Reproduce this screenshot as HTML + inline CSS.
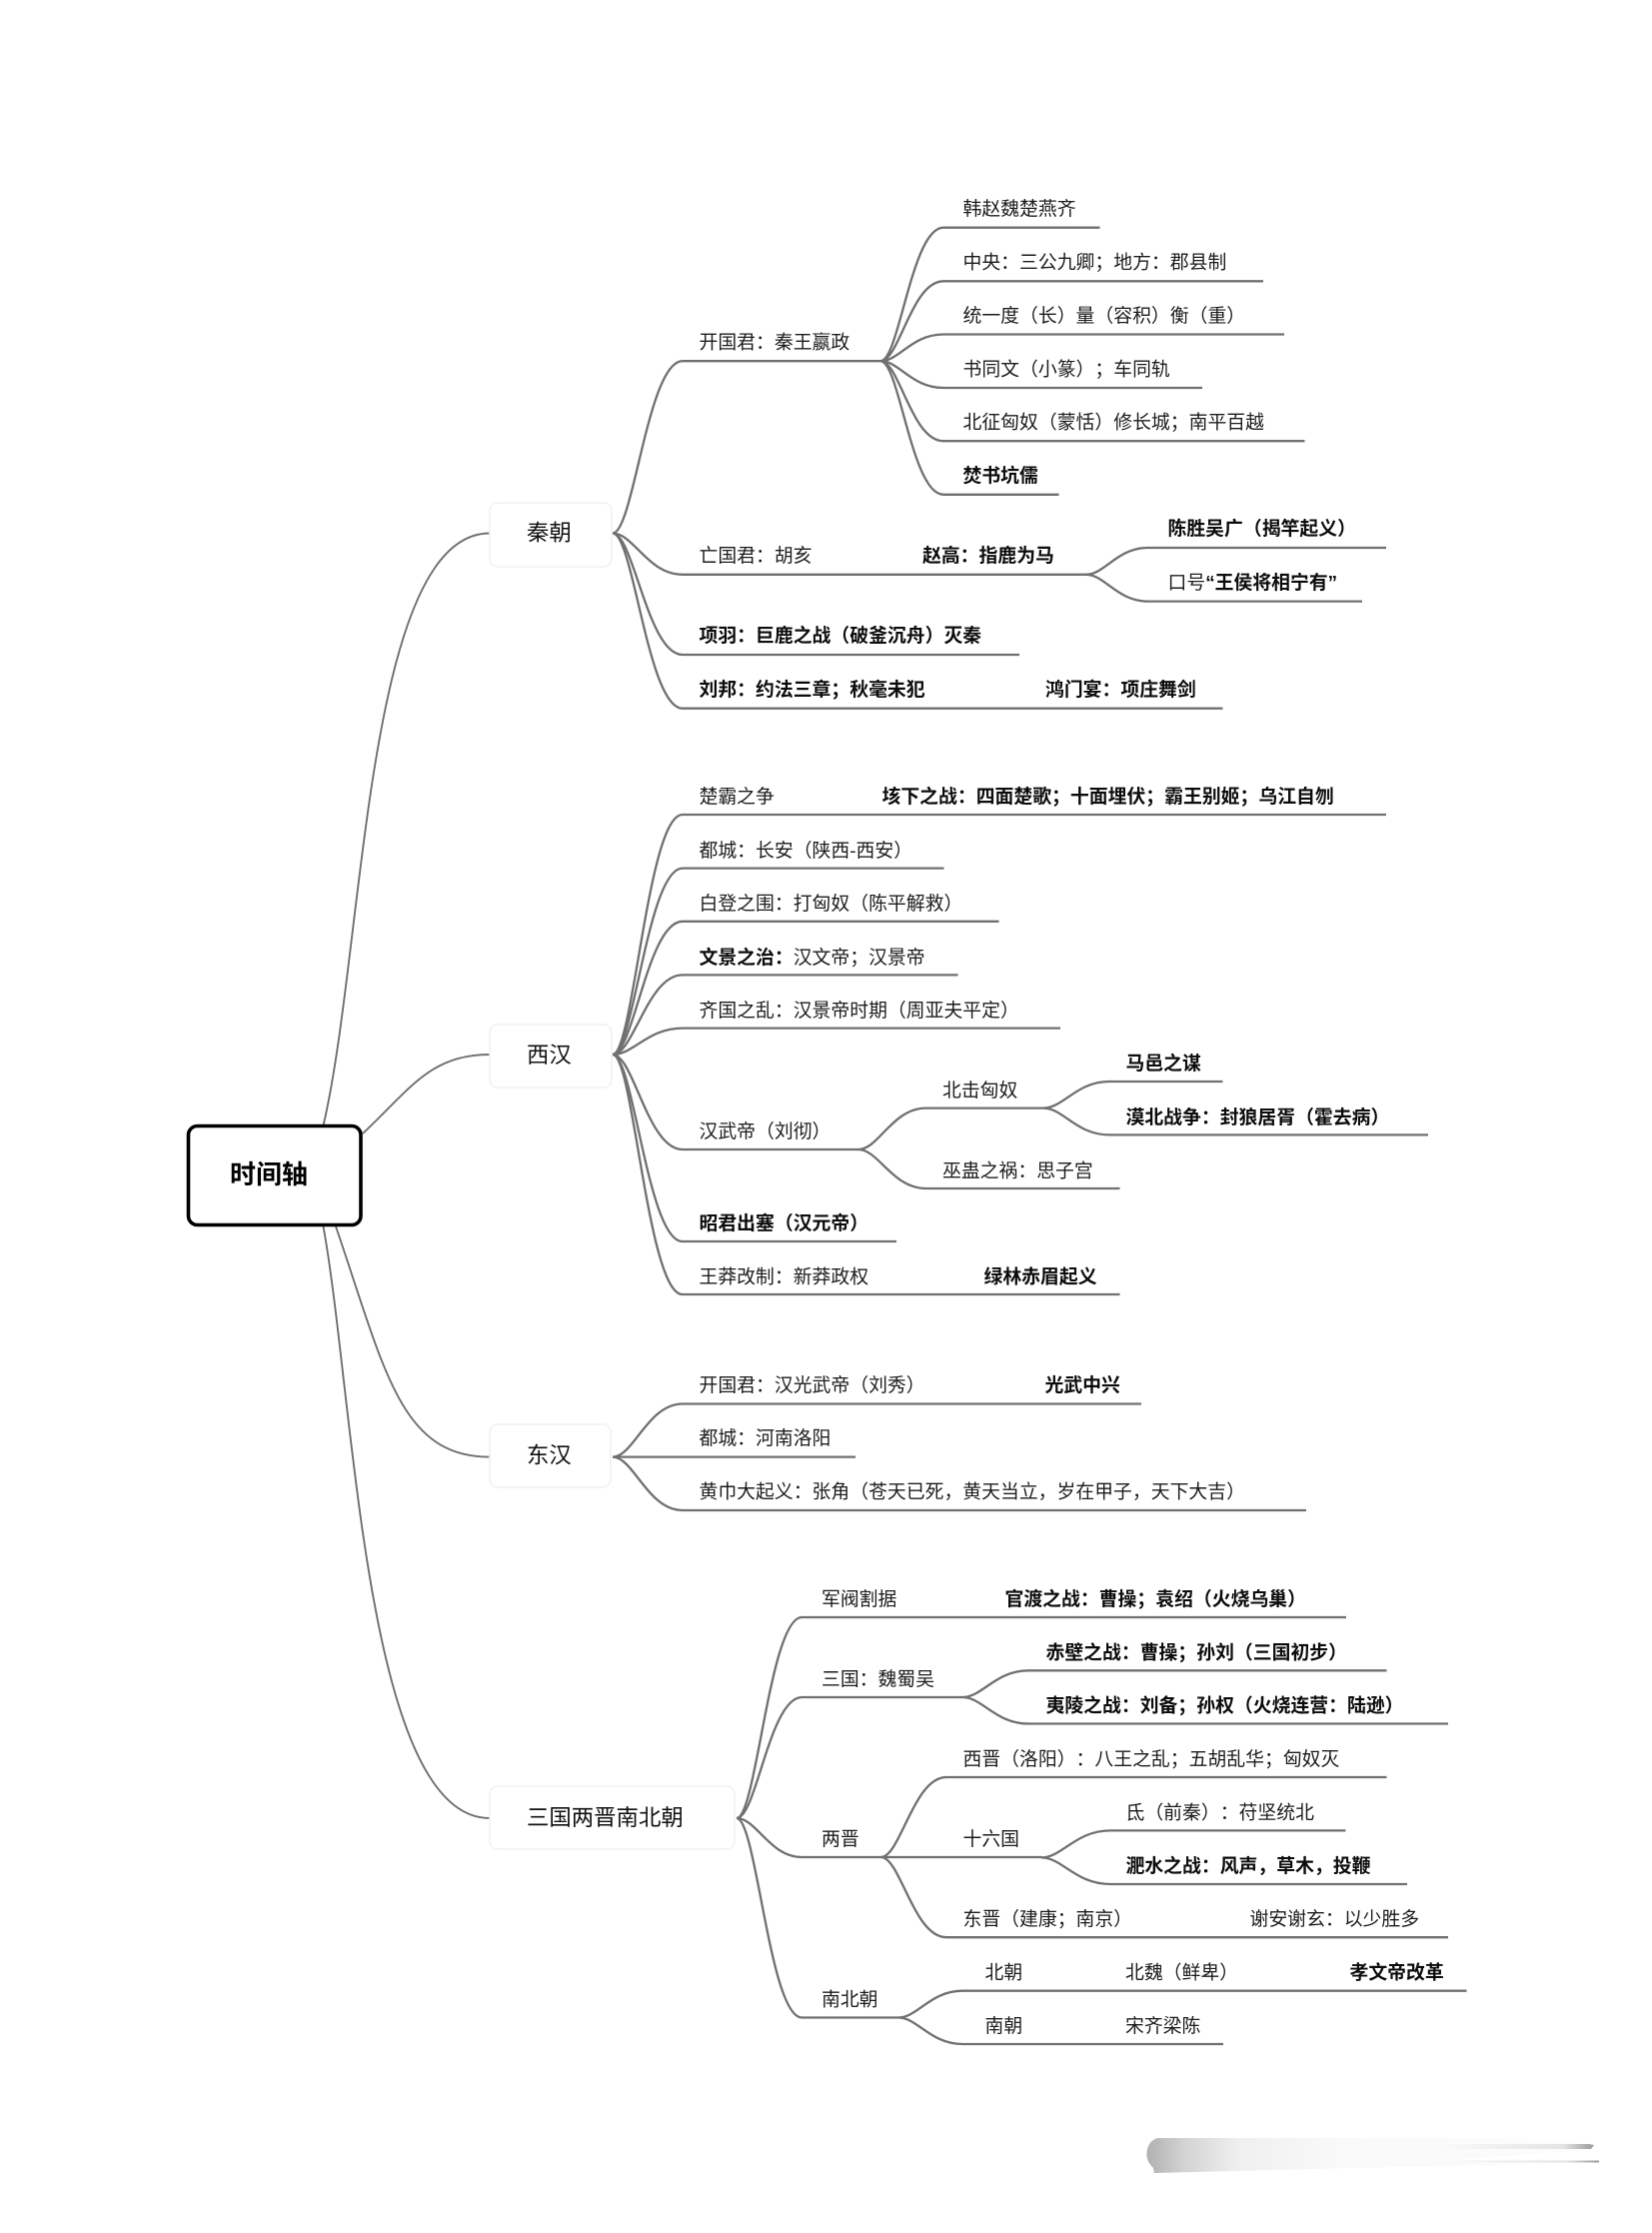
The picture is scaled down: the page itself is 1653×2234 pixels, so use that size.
<!DOCTYPE html>
<html lang="zh"><head><meta charset="utf-8"><title>时间轴</title>
<style>
html,body{margin:0;padding:0;background:#fff}
svg{display:block}
text{font-family:"Liberation Sans","Noto Sans CJK SC",sans-serif;font-size:18.85px;fill:#1c1c1c;text-spacing-trim:space-all;font-kerning:none}
.b{font-weight:700;fill:#0c0c0c}
.n{font-size:22.4px;fill:#111}
.c{fill:none;stroke:#707070;stroke-width:2.3}
.r{fill:none;stroke:#707070;stroke-width:1.9}
</style></head><body>
<svg width="1653" height="2234" viewBox="0 0 1653 2234" xmlns="http://www.w3.org/2000/svg">
<defs>
<linearGradient id="g2" x1="0" x2="1" y1="0" y2="0"><stop offset="0" stop-color="#fbfbfb"/><stop offset=".8" stop-color="#e4e4e4"/><stop offset="1" stop-color="#9a9a9a"/></linearGradient>
<linearGradient id="g3" x1="0" x2="1" y1="0" y2="0"><stop offset="0" stop-color="#b0b0b0"/><stop offset=".08" stop-color="#d2d2d2"/><stop offset=".2" stop-color="#efefef"/><stop offset=".42" stop-color="#f9f9f9"/><stop offset="1" stop-color="#fdfdfd"/></linearGradient>
</defs>

<!-- root connectors -->
<path class="r" d="M323.5 1126C365 950 365 533.5 490 533.5"/>
<path class="r" d="M363 1134C410 1090 430 1055 490 1055"/>
<path class="r" d="M336 1227C385 1370 400 1457.6 490 1457.6"/>
<path class="r" d="M323.5 1227C355 1400 365 1819 490 1819"/>

<!-- root -->
<rect x="188.5" y="1126.5" width="172.5" height="99" rx="9" fill="#fff" stroke="#000" stroke-width="3.6"/>
<text class="b" x="230" y="1184" style="font-size:26px;fill:#000">时间轴</text>

<!-- main nodes -->
<rect x="490" y="503" width="122" height="64" rx="8" fill="#fff" stroke="#f1f1f1" stroke-width="1.5"/>
<text class="n" x="527" y="540.5">秦朝</text>
<rect x="490" y="1025" width="122" height="63" rx="8" fill="#fff" stroke="#f1f1f1" stroke-width="1.5"/>
<text class="n" x="527" y="1063">西汉</text>
<rect x="490" y="1425" width="121" height="63" rx="8" fill="#fff" stroke="#f1f1f1" stroke-width="1.5"/>
<text class="n" x="527" y="1463.5">东汉</text>
<rect x="490" y="1787" width="245" height="63" rx="8" fill="#fff" stroke="#f1f1f1" stroke-width="1.5"/>
<text class="n" x="527" y="1826">三国两晋南北朝</text>

<!-- 秦朝 -->
<path class="c" d="M613 533.5C634 533.5 648 361.2 683 361.2H881"/>
<path class="c" d="M613 533.5C634 533.5 648 574.8 683 574.8H1087"/>
<path class="c" d="M613 533.5C634 533.5 648 655 683 655H1020"/>
<path class="c" d="M613 533.5C634 533.5 648 708.7 683 708.7H1223.5"/>
<path class="c" d="M881 361.2C900 361.2 912 227.7 944 227.7H1100.5"/>
<path class="c" d="M881 361.2C900 361.2 912 281.3 944 281.3H1264"/>
<path class="c" d="M881 361.2C900 361.2 912 334.5 944 334.5H1285"/>
<path class="c" d="M881 361.2C900 361.2 912 388 944 388H1203"/>
<path class="c" d="M881 361.2C900 361.2 912 441.2 944 441.2H1305.5"/>
<path class="c" d="M881 361.2C900 361.2 912 494.8 944 494.8H1059.5"/>
<path class="c" d="M1087 574.8C1105 574.8 1118 548 1148.5 548H1387"/>
<path class="c" d="M1087 574.8C1105 574.8 1118 601.6 1148.5 601.6H1363"/>
<g transform="translate(-0.5,1)">
<text x="700" y="347.5">开国君：秦王嬴政</text>
<text x="964" y="214">韩赵魏楚燕齐</text>
<text x="964" y="267.5">中央：三公九卿；地方：郡县制</text>
<text x="964" y="321">统一度（长）量（容积）衡（重）</text>
<text x="964" y="374.5">书同文（小篆）；车同轨</text>
<text x="964" y="427.5">北征匈奴（蒙恬）修长城；南平百越</text>
<text class="b" x="964" y="481">焚书坑儒</text>
<text x="700" y="561">亡国君：胡亥</text>
<text class="b" x="923.5" y="561">赵高：指鹿为马</text>
<text class="b" x="1169" y="534">陈胜吴广（揭竿起义）</text>
<text x="1169" y="588">口号<tspan class="b">“王侯将相宁有”</tspan></text>
<text class="b" x="700" y="641">项羽：巨鹿之战（破釜沉舟）灭秦</text>
<text class="b" x="700" y="695">刘邦：约法三章；秋毫未犯</text>
<text class="b" x="1046.5" y="695">鸿门宴：项庄舞剑</text>
</g>

<!-- 西汉 -->
<path class="c" d="M613 1055C634 1055 648 815 683 815H1387"/>
<path class="c" d="M613 1055C634 1055 648 868.6 683 868.6H944.5"/>
<path class="c" d="M613 1055C634 1055 648 921.8 683 921.8H999.5"/>
<path class="c" d="M613 1055C634 1055 648 975.4 683 975.4H958.5"/>
<path class="c" d="M613 1055C634 1055 648 1028.6 683 1028.6H1061"/>
<path class="c" d="M613 1055C634 1055 648 1150 683 1150H859"/>
<path class="c" d="M613 1055C634 1055 648 1242 683 1242H897"/>
<path class="c" d="M613 1055C634 1055 648 1295 683 1295H1120.5"/>
<path class="c" d="M859 1150C879 1150 893 1108.6 926.5 1108.6H1044"/>
<path class="c" d="M859 1150C879 1150 893 1189 926.5 1189H1120.5"/>
<path class="c" d="M1044 1108.6C1064 1108.6 1077 1082 1110 1082H1223.5"/>
<path class="c" d="M1044 1108.6C1064 1108.6 1077 1135.4 1110 1135.4H1429"/>
<g transform="translate(-0.5,2)">
<text x="700" y="801">楚霸之争</text>
<text class="b" x="883" y="801">垓下之战：四面楚歌；十面埋伏；霸王别姬；乌江自刎</text>
<text x="700" y="855">都城：长安（陕西-西安）</text>
<text x="700" y="908">白登之围：打匈奴（陈平解救）</text>
<text x="700" y="962"><tspan class="b">文景之治：</tspan>汉文帝；汉景帝</text>
<text x="700" y="1015">齐国之乱：汉景帝时期（周亚夫平定）</text>
<text x="700" y="1136">汉武帝（刘彻）</text>
<text x="943.5" y="1095">北击匈奴</text>
<text class="b" x="1127" y="1068">马邑之谋</text>
<text class="b" x="1127" y="1122">漠北战争：封狼居胥（霍去病）</text>
<text x="943.5" y="1175.5">巫蛊之祸：思子宫</text>
<text class="b" x="700" y="1228">昭君出塞（汉元帝）</text>
<text x="700" y="1281.5">王莽改制：新莽政权</text>
<text class="b" x="985" y="1281.5">绿林赤眉起义</text>
</g>

<!-- 东汉 -->
<path class="c" d="M613 1457.6C634 1457.6 648 1404.5 683 1404.5H1142"/>
<path class="c" d="M613 1457.6H856"/>
<path class="c" d="M613 1457.6C634 1457.6 648 1511 683 1511H1307"/>
<g transform="translate(-0.5,1)">
<text x="700" y="1391">开国君：汉光武帝（刘秀）</text>
<text class="b" x="1046" y="1391">光武中兴</text>
<text x="700" y="1444">都城：河南洛阳</text>
<text x="700" y="1497.5">黄巾大起义：张角（苍天已死，黄天当立，岁在甲子，天下大吉）</text>
</g>

<!-- 三国两晋南北朝 -->
<path class="c" d="M737 1819C757 1819 770 1618 802.5 1618H1347"/>
<path class="c" d="M737 1819C757 1819 770 1698 802.5 1698H963"/>
<path class="c" d="M737 1819C757 1819 770 1858 802.5 1858H881.5"/>
<path class="c" d="M737 1819C757 1819 770 2018.5 802.5 2018.5H899"/>
<path class="c" d="M963 1698C983 1698 996 1671.3 1029 1671.3H1387.5"/>
<path class="c" d="M963 1698C983 1698 996 1724.5 1029 1724.5H1449"/>
<path class="c" d="M881.5 1858C901 1858 914 1778 947 1778H1387.5"/>
<path class="c" d="M881.5 1858H1042"/>
<path class="c" d="M881.5 1858C901 1858 914 1938.2 947 1938.2H1449"/>
<path class="c" d="M1042 1858.4C1063 1858.4 1076 1831.4 1111 1831.4H1346.5"/>
<path class="c" d="M1042 1858.4C1063 1858.4 1076 1885 1111 1885H1408"/>
<path class="c" d="M899 2018.5C918 2018.5 931 1991.7 963 1991.7H1467.5"/>
<path class="c" d="M899 2018.5C918 2018.5 931 2045 963 2045H1224"/>
<g transform="translate(-0.5,1.5)">
<text x="822.5" y="1604.5">军阀割据</text>
<text class="b" x="1006" y="1604.5">官渡之战：曹操；袁绍（火烧乌巢）</text>
<text x="822.5" y="1684.5">三国：魏蜀吴</text>
<text class="b" x="1047" y="1658">赤壁之战：曹操；孙刘（三国初步）</text>
<text class="b" x="1047" y="1711">夷陵之战：刘备；孙权（火烧连营：陆逊）</text>
<text x="822.5" y="1844.5">两晋</text>
<text x="964" y="1764.5">西晋（洛阳）：八王之乱；五胡乱华；匈奴灭</text>
<text x="964" y="1844.5">十六国</text>
<text x="1127" y="1818">氐（前秦）：苻坚统北</text>
<text class="b" x="1127" y="1871.5">淝水之战：风声，草木，投鞭</text>
<text x="964" y="1924.5">东晋（建康；南京）</text>
<text x="1251" y="1924.5">谢安谢玄：以少胜多</text>
<text x="822.5" y="2005">南北朝</text>
<text x="986" y="1978">北朝</text>
<text x="1126.5" y="1978">北魏（鲜卑）</text>
<text class="b" x="1351" y="1978">孝文帝改革</text>
<text x="986" y="2031.5">南朝</text>
<text x="1126.5" y="2031.5">宋齐梁陈</text>
</g>

<!-- watermark smear -->
<path d="M1158 2139H1500L1590 2144L1595 2146L1592 2150L1500 2158L1400 2164L1500 2160L1600 2161V2164L1400 2168L1155 2174L1154 2169C1150 2165 1147 2160 1147.5 2154C1148 2146 1152 2141 1158 2139Z" fill="url(#g3)"/>
<path d="M1440 2145H1590L1595 2146L1592 2150H1440Z" fill="url(#g2)"/>
<path d="M1440 2161.5H1600V2163.5H1440Z" fill="url(#g2)"/>
</svg>
</body></html>
